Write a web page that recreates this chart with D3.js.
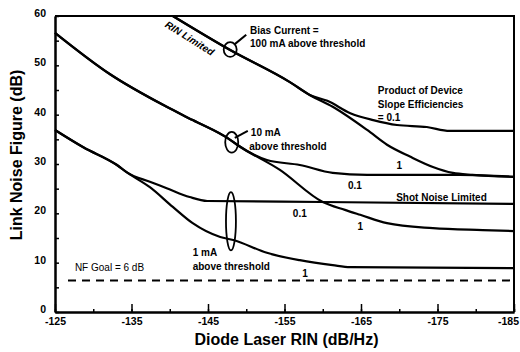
<!DOCTYPE html>
<html>
<head>
<style>
body { margin: 0; background: #fff; }
text { font-family: "Liberation Sans", Arial, sans-serif; }
</style>
</head>
<body>
<svg id='chart'></svg>
<script src="https://d3js.org/d3.v7.min.js"></script>
<script>
IMG_SIZE = [520, 352]
X_DOMAIN = [-125, -185]
Y_DOMAIN = [0, 60]

// x ticks (dB/Hz), y ticks (dB)
X_TICKS = [-125, -135, -145, -155, -165, -175, -185]
Y_TICKS = [0, 10, 20, 30, 40, 50, 60]

// 100 mA above threshold
bias100_eff01 = [[-140.4,60],[-147.9,53.1],[-155.7,46.6],[-158.3,44.0],[-160.6,42.8],[-163.6,40.3],[-166.6,38.9],[-169.7,37.9],[-173.6,37.5],[-176.6,36.7],[-185,36.7]]
bias100_eff1 = [[-140.4,60],[-147.9,53.1],[-155.7,46.6],[-158.3,44.0],[-161.3,41.6],[-165.8,36.9],[-168.4,33.9],[-171.4,31.5],[-174.4,29.4],[-177.0,28.2],[-179.6,27.8],[-185,27.4]]

// 10 mA above threshold
bias10_eff01 = [[-125,56.6],[-132.2,48.2],[-139.6,41.6],[-143.0,38.9],[-147.9,34.9],[-148.8,33.9],[-152.7,30.8],[-157.0,29.8],[-161.3,28.2],[-165.8,27.8],[-177.9,27.8],[-185,27.4]]
bias10_eff1 = [[-125,56.6],[-132.2,48.2],[-139.6,41.6],[-143.0,38.9],[-147.9,34.9],[-148.8,33.9],[-154.4,28.8],[-160.0,22.3],[-162.9,20.7],[-164.9,19.7],[-168.4,18.0],[-174.4,17.0],[-180.9,16.6],[-185,16.4]]

// 1 mA above threshold
bias1_eff01 = [[-125,36.9],[-128.7,33.4],[-133.1,29.8],[-134.5,28.2],[-137.4,26.4],[-139.6,25.1],[-142.6,23.3],[-144.9,22.5],[-160,22.3],[-185,21.9]]
bias1_eff1 = [[-125,36.9],[-128.7,33.4],[-133.1,29.8],[-134.5,28.2],[-137.4,25.3],[-140.4,21.3],[-143.0,18.0],[-146.6,15.2],[-148.3,14.6],[-152.7,12.0],[-157.0,10.5],[-161.3,9.5],[-163.6,9.1],[-185,8.9]]

NF_GOAL = 6.4

// annotation text: [x, y, text]
LABELS = [
	[-150.5, 56.4, 'Bias Current ='],
	[-150.5, 53.7, '100 mA above threshold'],
	[-167.2, 44.2, 'Product of Device'],
	[-167.2, 41.4, 'Slope Efficiencies'],
	[-167.2, 38.7, '= 0.1'],
	[-150.6, 35.7, '10 mA'],
	[-150.4, 32.8, 'above threshold'],
	[-143.0, 11.4, '1 mA'],
	[-143.0, 8.5, 'above threshold'],
	[-169.6, 22.5, 'Shot Noise Limited']
]
// curve labels: [x centre, y, text]
CURVE_LABELS = [
	[-170.0, 29.0, '1'],
	[-164.2, 24.9, '0.1'],
	[-157.0, 19.3, '0.1'],
	[-164.9, 16.6, '1'],
	[-157.7, 7.1, '1']
]
// ellipses: [cx, cy, half width, half height] in data units
ELLIPSES = [
	[-147.9, 53.2, 0.85, 1.5],
	[-148.1, 34.4, 0.85, 2.1],
	[-148.0, 18.4, 0.65, 5.9]
]
LEADERS = [
	[[-148.5, 54.3], [-150.0, 56.2]],
	[[-148.5, 35.3], [-150.2, 36.7]]
]

var margin = {left: 55, right: 6, top: 16, bottom: 40}
var x = d3.scaleLinear().domain(X_DOMAIN).range([margin.left, IMG_SIZE[0] - margin.right])
var y = d3.scaleLinear().domain(Y_DOMAIN).range([IMG_SIZE[1] - margin.bottom, margin.top])

var svg = d3.select('#chart')
	.attr('width', IMG_SIZE[0])
	.attr('height', IMG_SIZE[1])

function drawAxes() {
	var y0 = y(0)
	var xMinor = d3.axisBottom(x).tickValues(d3.range(-125, -186, -5)).tickSizeInner(-3).tickSizeOuter(0).tickFormat('')
	var xMajor = d3.axisBottom(x).tickValues(X_TICKS).tickSizeInner(-8).tickSizeOuter(0).tickPadding(6).tickFormat(function(d){return d})
	var yMinor = d3.axisLeft(y).tickValues(d3.range(0, 61, 5)).tickSizeInner(-4).tickSizeOuter(0).tickFormat('')
	var yMajor = d3.axisLeft(y).tickValues(Y_TICKS).tickSizeInner(0).tickSizeOuter(0).tickPadding(9)

	svg.append('g').attr('transform', 'translate(0,' + y0 + ')').call(xMinor)
	var gx = svg.append('g').attr('transform', 'translate(0,' + y0 + ')').call(xMajor)
	svg.append('g').attr('transform', 'translate(' + margin.left + ',0)').call(yMinor)
	var gy = svg.append('g').attr('transform', 'translate(' + margin.left + ',0)').call(yMajor)

	svg.selectAll('.domain').style('stroke-width', 2)
	svg.selectAll('.tick line').style('stroke-width', 1.5)
	gx.selectAll('text').style('font-size', '10.5px').style('font-weight', 'bold').attr('fill', 'black')
	// last label sits against the page edge, pull it in
	gx.selectAll('text').filter(function(d){return d === -185}).attr('dx', -6)
	gy.selectAll('text').style('font-size', '10.5px').style('font-weight', 'bold').attr('fill', 'black').attr('dy', '0.05em')

	// top and right frame
	svg.append('path')
		.style('stroke-width', 2)
		.style('stroke', 'black')
		.style('fill', 'none')
		.attr('d', 'M ' + x(-125) + ' ' + y(60) + ' L ' + x(-185) + ' ' + y(60) + ' L ' + x(-185) + ' ' + y(0))

	svg.append('text')
		.attr('x', (x(-125) + x(-185)) / 2 + 2)
		.attr('y', 345)
		.attr('text-anchor', 'middle')
		.style('font-size', '16px')
		.style('font-weight', 'bold')
		.text('Diode Laser RIN (dB/Hz)')

	svg.append('text')
		.attr('transform', 'translate(22,' + 155 + ') rotate(-90)')
		.attr('text-anchor', 'middle')
		.style('font-size', '16px')
		.style('font-weight', 'bold')
		.text('Link Noise Figure (dB)')
}

function drawCurves() {
	var line = d3.line()
		.x(function(d){return x(d[0])})
		.y(function(d){return y(d[1])})
		.curve(d3.curveMonotoneX)

	var curves = [bias100_eff01, bias100_eff1, bias10_eff01, bias10_eff1, bias1_eff01, bias1_eff1]
	svg.selectAll('path.curve')
		.data(curves)
		.enter()
		.append('path')
		.attr('class', 'curve')
		.style('stroke-width', 2.2)
		.style('stroke', 'black')
		.style('fill', 'none')
		.attr('d', line)

	svg.append('path')
		.style('stroke-width', 2)
		.style('stroke', 'black')
		.style('fill', 'none')
		.attr('stroke-dasharray', '8,6')
		.attr('d', line([[-126.7, NF_GOAL], [-184.7, NF_GOAL]]))
}

function drawAnnotations() {
	svg.selectAll('ellipse')
		.data(ELLIPSES)
		.enter()
		.append('ellipse')
		.style('stroke-width', 1.8)
		.style('stroke', 'black')
		.style('fill', 'none')
		.attr('cx', function(d){return x(d[0])})
		.attr('cy', function(d){return y(d[1])})
		.attr('rx', function(d){return x(d[0] - d[2]) - x(d[0])})
		.attr('ry', function(d){return y(d[1] - d[3]) - y(d[1])})

	svg.selectAll('line.leader')
		.data(LEADERS)
		.enter()
		.append('line')
		.attr('class', 'leader')
		.style('stroke-width', 2)
		.style('stroke', 'black')
		.attr('x1', function(d){return x(d[0][0])})
		.attr('y1', function(d){return y(d[0][1])})
		.attr('x2', function(d){return x(d[1][0])})
		.attr('y2', function(d){return y(d[1][1])})

	svg.selectAll('text.label')
		.data(LABELS)
		.enter()
		.append('text')
		.attr('class', 'label')
		.attr('x', function(d){return x(d[0])})
		.attr('y', function(d){return y(d[1])})
		.style('font-size', '10px')
		.style('font-weight', 'bold')
		.text(function(d){return d[2]})

	svg.selectAll('text.clabel')
		.data(CURVE_LABELS)
		.enter()
		.append('text')
		.attr('class', 'clabel')
		.attr('x', function(d){return x(d[0])})
		.attr('y', function(d){return y(d[1])})
		.attr('text-anchor', 'middle')
		.style('font-size', '10px')
		.style('font-weight', 'bold')
		.text(function(d){return d[2]})

	svg.append('text')
		.attr('x', x(-127.6))
		.attr('y', y(8.3))
		.style('font-size', '10px')
		.text('NF Goal = 6 dB')

	svg.append('text')
		.attr('transform', 'translate(' + x(-142.6) + ',' + y(55.5) + ') rotate(32)')
		.attr('text-anchor', 'middle')
		.attr('dy', '0.35em')
		.style('font-size', '10px')
		.style('font-style', 'italic')
		.style('font-weight', 'bold')
		.text('RIN Limited')
}

drawAxes();
drawCurves();
drawAnnotations();
</script>
</body>
</html>
